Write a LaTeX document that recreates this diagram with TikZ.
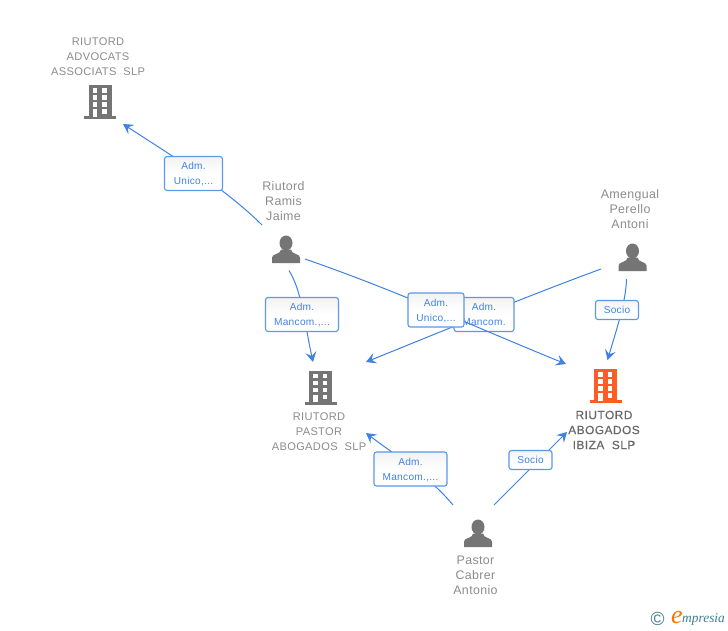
\documentclass[tikz,border=0pt]{standalone}
\usepackage{fontspec}
\setmainfont[LetterSpace=3]{Liberation Sans}
\newfontfamily\logofont{Liberation Serif}
\newfontfamily\boldish[LetterSpace=4,FakeBold=0.35]{Liberation Sans}
\usetikzlibrary{arrows.meta,calc}
\definecolor{linkblue}{HTML}{3F82E4}
\definecolor{boxblue}{HTML}{5A98EA}
\definecolor{labgray}{HTML}{8C8C8C}
\definecolor{icongray}{HTML}{757575}
\definecolor{iconred}{HTML}{FF5C26}
\definecolor{logoteal}{HTML}{3F7F92}
\tikzset{
  x=1pt,y=-1pt,
  nametext/.style={text=labgray,font=\fontsize{11.1}{15}\selectfont,align=center,inner sep=0pt},
  persontext/.style={nametext,font=\fontsize{12.4}{15}\selectfont},
  boldtext/.style={nametext,text=icongray!90!black,font=\boldish\fontsize{11.9}{15}\selectfont},
  rolebox/.style={draw=boxblue,line width=1.1pt,rounded corners=2.5pt,top color=black!5,bottom color=white,middle color=white,
    text=linkblue,font=\fontsize{10.1}{15}\selectfont,align=center,inner sep=0pt},
  link/.style={draw=linkblue,line width=1pt},
  linkarrow/.style={link,-{Stealth[length=10pt,width=11pt,inset=4pt]}},
  anchorpt/.style={inner sep=0pt,minimum size=0pt}
}
% building icon centred on #2,#3 with colour #4, named #1
\newcommand{\buildingicon}[4]{%
  \node[anchorpt] (#1) at (#2,#3) {};
  \begin{scope}[shift={(#2,#3)}]
    \fill[#4] (-11.5,-17) rectangle (11.5,14);
    \fill[#4] (-16,14) rectangle (16,17);
    \foreach \yy in {-14,-7,0,7}{
      \fill[white] (-7.5,\yy) rectangle (-3,{\yy+4.5});
      \fill[white] (2,\yy) rectangle (6.5,{\yy+4.5});
    }
    \fill[white] (-7.5,7) rectangle (-3,14.5);
  \end{scope}}
% person icon centred on #2,#3, named #1
\newcommand{\personicon}[3]{%
  \node[anchorpt] (#1) at (#2,#3) {};
  \begin{scope}[shift={(#2,#3)}]
    \fill[icongray] (0,-6.5) ellipse (6.5 and 7.5);
    \fill[icongray] (-14,13.5) -- (-14,8) .. controls (-14,4) and (-5,5) .. (-5,0)
      -- (5,0) .. controls (5,5) and (14,4) .. (14,8) -- (14,13.5) -- cycle;
  \end{scope}}
\begin{document}
\begin{tikzpicture}
\useasboundingbox (0,0) rectangle (728,630);
\fill[white] (0,0) rectangle (728,630);

\buildingicon{advocats}{100}{102}{icongray}
\buildingicon{pastorco}{320.5}{387.5}{icongray}
\buildingicon{ibiza}{605.5}{386}{iconred}
\personicon{ramis}{286}{249.5}
\personicon{amengual}{632.5}{257.5}
\personicon{cabrer}{478}{533.5}

\node[nametext] (tadvocats) at (98,56.5) {RIUTORD\\ADVOCATS\\ASSOCIATS\ \ SLP};
\node[nametext] (tpastor) at (319,432) {RIUTORD\\PASTOR\\ABOGADOS\ \ SLP};
\node[boldtext] (tibiza) at (604,430) {RIUTORD\\ABOGADOS\\IBIZA\ \ SLP};
\node[persontext] (tramis) at (283.5,201.5) {Riutord\\Ramis\\Jaime};
\node[persontext] (tamengual) at (630,209.5) {Amengual\\Perello\\Antoni};
\node[persontext] (tcabrer) at (475.5,575.5) {Pastor\\Cabrer\\Antonio};

\coordinate (r1) at (262,225);
\coordinate (a1) at (123,124);
\coordinate (r2) at (289,270.5);
\coordinate (a2) at (313,362);
\coordinate (r3) at (305,259);
\coordinate (a3) at (566,364);
\coordinate (m1) at (601,269);
\coordinate (a4) at (366,362);
\coordinate (m2) at (626.5,279);
\coordinate (a5) at (607.5,360);
\coordinate (c1) at (453,505);
\coordinate (a6) at (366,433);
\coordinate (c2) at (494,505);
\coordinate (a7) at (567,432);

\draw[linkarrow] (r1) .. controls (225,188) and (172,156) .. (a1);
\draw[linkarrow] (r2) .. controls (302,292) and (304,320) .. (a2);
\draw[linkarrow] (m1) .. controls (530,295) and (450,328) .. (a4);
\draw[linkarrow] (m2) .. controls (626,300) and (618,325) .. (a5);
\draw[linkarrow] (c1) .. controls (430,477) and (395,455) .. (a6);
\draw[linkarrow] (c2) -- (a7);

\node[rolebox,minimum width=58pt,minimum height=34pt,text depth=-1pt] (l1) at (193.5,173.5) {Adm.\\Unico,...};
\node[rolebox,minimum width=73pt,minimum height=34pt,text depth=-1pt] (l2) at (302,314.5) {Adm.\\Mancom.,...};
\node[rolebox,minimum width=60pt,minimum height=34pt,text depth=-1pt] (l3) at (484,314.5) {Adm.\\Mancom.};
\draw[linkarrow] (r3) .. controls (400,292) and (470,325) .. (a3);
\node[rolebox,minimum width=56pt,minimum height=34pt,text depth=-1pt] (l4) at (436,310) {Adm.\\Unico,...};
\node[rolebox,minimum width=43pt,minimum height=19pt] (l5) at (617,310) {Socio};
\node[rolebox,minimum width=73pt,minimum height=34pt,text depth=-1pt] (l6) at (410.5,469) {Adm.\\Mancom.,...};
\node[rolebox,minimum width=43pt,minimum height=19pt] (l7) at (530.5,460) {Socio};

\node[anchorpt,text=logoteal,font=\fontsize{19}{19}\selectfont] (copy) at (657.5,619) {©};
\node[anchorpt,text=orange!90!red,font=\logofont\itshape\fontsize{26}{26}\selectfont] (loge) at (677,617) {e};
\node[anchorpt,text=logoteal,anchor=west,font=\logofont\itshape\fontsize{13.4}{13.4}\selectfont] (logt) at (682,619) {mpresia};
\end{tikzpicture}
\end{document}
